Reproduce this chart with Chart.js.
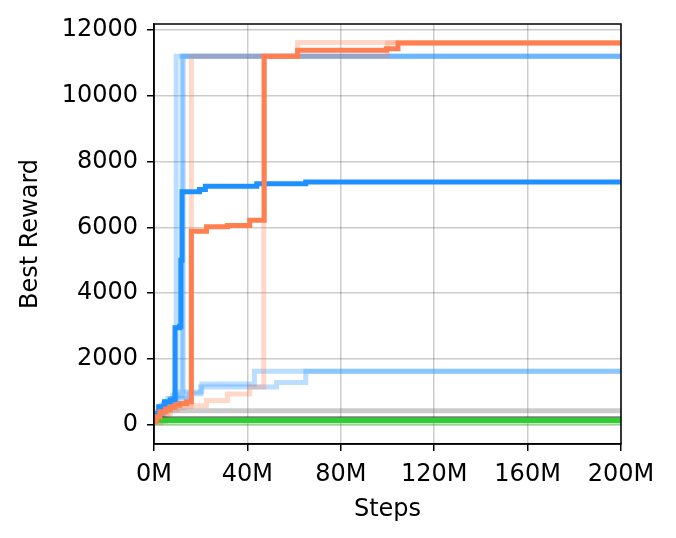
<!DOCTYPE html>
<html>
<head>
<meta charset="utf-8">
<script src="https://cdn.jsdelivr.net/npm/chart.js@4/dist/chart.umd.min.js"></script>
<style>
  body { margin: 0; background: #fff; }
</style>
</head>
<body>
<canvas id="chart" width="676" height="538"></canvas>
<script>
// Best reward vs steps (M), step curves
const xTicks = [0, 40, 80, 120, 160, 200];
const yTicks = [0, 2000, 4000, 6000, 8000, 10000, 12000];

// main runs
const blueMainX = [0, 2, 4.5, 7, 9, 11, 11.5, 12, 19.5, 22, 44, 65, 200];
const blueMainY = [350, 550, 700, 760, 2950, 3000, 5000, 7080, 7150, 7250, 7330, 7380, 7380];
const orangeMainX = [0, 1, 2.5, 5, 7, 9, 11, 14, 16, 22.5, 31.5, 41, 47.2, 61.5, 99.5, 104.5, 200];
const orangeMainY = [100, 250, 400, 480, 540, 600, 650, 700, 5880, 6020, 6060, 6220, 11200, 11380, 11430, 11600, 11600];

// faint runs
const lightOrange1X = [0, 3, 6, 10, 13, 16, 100, 200];
const lightOrange1Y = [50, 300, 450, 520, 560, 11200, 11600, 11600];
const lightOrange2X = [0, 5, 7, 22.5, 31.5, 41, 47, 61.5, 200];
const lightOrange2Y = [100, 350, 580, 740, 940, 1150, 11200, 11620, 11620];
const lightBlue1X = [0, 3, 6, 9.5, 200];
const lightBlue1Y = [300, 600, 800, 11200, 11200];
const lightBlue2X = [0, 4, 7, 9, 12.5, 200];
const lightBlue2Y = [350, 650, 800, 1000, 11200, 11200];
const lightBlue3X = [0, 5, 8, 12, 200];
const lightBlue3Y = [400, 700, 900, 11200, 11200];
const lightBlue4X = [0, 3, 6, 9, 14, 20.5, 43, 200];
const lightBlue4Y = [250, 500, 700, 850, 1000, 1240, 1630, 1630];
const lightBlue5X = [0, 4, 8, 15, 20, 52.5, 65, 200];
const lightBlue5Y = [300, 600, 800, 950, 1150, 1290, 1630, 1630];

// flat runs
const grayX = [0, 2, 200];
const grayY = [150, 430, 430];
const greenX = [0, 200];
const greenY = [140, 140];
const greenLightY = [50, 50];
const darkX = [0, 200];
const darkY = [240, 240];

function pts(xs, ys) {
  return xs.map((x, i) => ({ x: x, y: ys[i] }));
}

// hold each value until the next x (steps-post)
function run(xs, ys, color, width) {
  return {
    data: pts(xs, ys),
    borderColor: color,
    borderWidth: width || 5,
    stepped: 'before',
    pointRadius: 0,
    fill: false,
    borderCapStyle: 'butt',
    borderJoinStyle: 'miter'
  };
}

const LB = 'rgba(30,144,255,0.3)';
const LO = 'rgba(255,127,80,0.3)';

// first dataset is drawn on top
const datasets = [
  run(orangeMainX, orangeMainY, '#ff7f50', 5),
  run(blueMainX, blueMainY, '#1e90ff', 5),
  run(darkX, darkY, 'rgba(0,0,0,0.75)', 1.2),
  run(greenX, greenY, '#32cd32', 5.5),
  run(greenX, greenLightY, 'rgba(50,205,50,0.3)', 5),
  run(grayX, grayY, 'rgba(128,128,128,0.4)', 5),
  run(lightOrange1X, lightOrange1Y, LO),
  run(lightOrange2X, lightOrange2Y, LO),
  run(lightBlue1X, lightBlue1Y, LB),
  run(lightBlue2X, lightBlue2Y, LB),
  run(lightBlue3X, lightBlue3Y, LB),
  run(lightBlue4X, lightBlue4Y, LB),
  run(lightBlue5X, lightBlue5Y, LB)
];

// black frame round the plot area like matplotlib
const frame = {
  id: 'frame',
  afterDatasetsDraw(chart) {
    const a = chart.chartArea;
    const ctx = chart.ctx;
    ctx.save();
    ctx.strokeStyle = '#000';
    ctx.lineWidth = 1.5;
    ctx.strokeRect(a.left, a.top, a.right - a.left, a.bottom - a.top);
    ctx.restore();
  }
};

const font = { family: 'DejaVu Sans', size: 24 };

new Chart(document.getElementById('chart'), {
  type: 'line',
  data: { datasets: datasets },
  options: {
    responsive: false,
    animation: false,
    layout: { padding: { left: 0, top: 24, right: 55, bottom: 0 } },
    plugins: { legend: { display: false }, tooltip: { enabled: false } },
    scales: {
      x: {
        type: 'linear',
        min: 0,
        max: 200,
        afterFit: s => { s.height = 94; },
        afterBuildTicks: s => { s.ticks = xTicks.map(v => ({ value: v })); },
        ticks: { color: '#000', font: font, padding: 9, maxRotation: 0, callback: v => v + 'M' },
        grid: { color: 'rgba(0,0,0,0.2)', lineWidth: 1.5, tickColor: '#000', tickLength: 7, tickWidth: 1.5 },
        border: { color: '#000', width: 1.5 },
        title: { display: true, text: 'Steps', color: '#000', font: font, padding: { top: 16, bottom: 14 } }
      },
      y: {
        type: 'linear',
        min: -580,
        max: 12180,
        afterFit: s => { s.width = 154; },
        afterBuildTicks: s => { s.ticks = yTicks.map(v => ({ value: v })); },
        ticks: { color: '#000', font: font, padding: 9, callback: v => String(v) },
        grid: { color: 'rgba(0,0,0,0.2)', lineWidth: 1.5, tickColor: '#000', tickLength: 7, tickWidth: 1.5 },
        border: { color: '#000', width: 1.5 },
        title: { display: true, text: 'Best Reward', color: '#000', font: font, padding: { top: 16, bottom: 16 } }
      }
    }
  },
  plugins: [frame]
});
</script>
</body>
</html>
